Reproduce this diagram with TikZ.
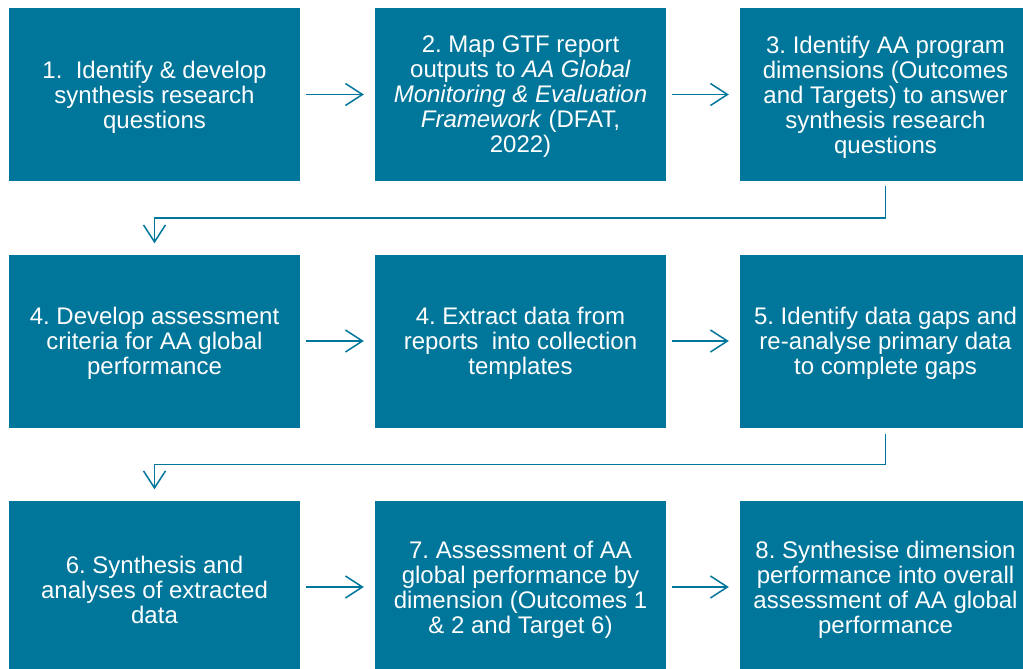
\documentclass[tikz,border=0pt]{standalone}
\usepackage{fontspec}
\setmainfont{Liberation Sans}
\frenchspacing
\usetikzlibrary{arrows.meta}
\definecolor{teal}{HTML}{00769A}
\tikzset{
  stepbox/.style={fill=teal, draw=none, inner sep=0pt,
    minimum width=291pt, minimum height=173pt},
  steptext/.style={inner sep=0pt, text=white, align=center, yshift=-2.5pt,
    font=\fontsize{24pt}{25pt}\selectfont},
  conn/.style={draw=teal, line width=1.5pt,
    -{Straight Barb[length=17pt, width=22pt, line width=1.5pt]}},
  hconn/.style={conn, shorten <=6pt, shorten >=11pt},
}
\begin{document}
\begin{tikzpicture}[x=1pt, y=-1pt]
\clip (0,0) rectangle (1023,669);
\fill[white] (0,0) rectangle (1023,669);
% boxes
\node[stepbox] (b1) at (154.5,94.5) {};
\node[stepbox] (b2) at (520.5,94.5) {};
\node[stepbox] (b3) at (885.5,94.5) {};
\node[stepbox] (b4) at (154.5,341) {};
\node[stepbox] (b5) at (520.5,341) {};
\node[stepbox] (b6) at (885.5,341) {};
\node[stepbox] (b7) at (154.5,587) {};
\node[stepbox] (b8) at (520.5,587) {};
\node[stepbox] (b9) at (885.5,587) {};
% box texts
\node[steptext] (t1) at (b1) {1.\ \ Identify \& develop\\synthesis research\\questions};
\node[steptext] (t2) at (b2) {2. Map GTF report\\outputs to \textit{AA Global}\\\textit{Monitoring \& Evaluation}\\\textit{Framework} (DFAT,\\2022)};
\node[steptext] (t3) at (b3) {3. Identify AA program\\dimensions (Outcomes\\and Targets) to answer\\synthesis research\\questions};
\node[steptext] (t4) at (b4) {4. Develop assessment\\criteria for AA global\\performance};
\node[steptext] (t5) at (b5) {4. Extract data from\\reports\ \ into collection\\templates};
\node[steptext] (t6) at (b6) {5. Identify data gaps and\\re-analyse primary data\\to complete gaps};
\node[steptext] (t7) at (b7) {6. Synthesis and\\analyses of extracted\\data};
\node[steptext] (t8) at (b8) {7. Assessment of AA\\global performance by\\dimension (Outcomes 1\\\& 2 and Target 6)};
\node[steptext] (t9) at (b9) {8. Synthesise dimension\\performance into overall\\assessment of AA global\\performance};
% arrows within rows
\draw[hconn] (b1) -- (b2);
\draw[hconn] (b2) -- (b3);
\draw[hconn] (b4) -- (b5);
\draw[hconn] (b5) -- (b6);
\draw[hconn] (b7) -- (b8);
\draw[hconn] (b8) -- (b9);
% return connectors between rows
\draw[conn, shorten <=5pt, shorten >=11pt] (b3.south) -- ++(0,37) -| (b4.north);
\draw[conn, shorten <=6pt, shorten >=11pt] (b6.south) -- ++(0,37) -| (b7.north);
\end{tikzpicture}
\end{document}
